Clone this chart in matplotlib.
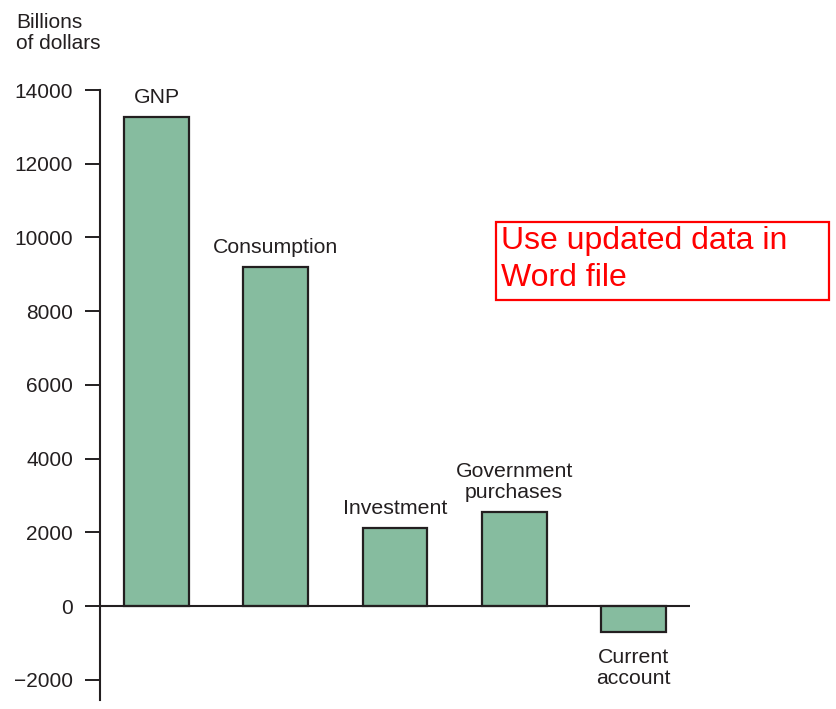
import matplotlib
matplotlib.use("Agg")
import matplotlib.pyplot as plt
from matplotlib.patches import Rectangle

plt.rcParams['font.family'] = ['Liberation Sans', 'DejaVu Sans']

categories = ["GNP", "Consumption", "Investment", "Government\npurchases", "Current\naccount"]
values = [13270, 9200, 2120, 2550, -700]
yticks = [-2000, 0, 2000, 4000, 6000, 8000, 10000, 12000, 14000]

dark = "#231f20"
green = "#86bc9f"

fig = plt.figure(figsize=(8.37, 7.09), dpi=100)
ax = fig.add_axes([100 / 837, 9 / 709, 590 / 837, 610 / 709])

x = list(range(len(categories)))
ax.bar(x, values, width=0.545, color=green, edgecolor=dark, linewidth=1.6, zorder=2)

ax.set_xlim(-0.474, 4.474)
ax.set_ylim(-2550, 14000)
ax.set_yticks(yticks)
ax.set_yticklabels([f"{t}".replace("-", "\u2212") for t in yticks], fontsize=15, color=dark)
ax.tick_params(axis='y', direction='out', length=11, width=1.4, pad=8.5, colors=dark)
ax.tick_params(axis='x', bottom=False, labelbottom=False)

for s in ["top", "right", "bottom"]:
    ax.spines[s].set_visible(False)
ax.spines["left"].set_linewidth(1.5)
ax.spines["left"].set_color(dark)
ax.axhline(0, color=dark, linewidth=1.5, zorder=3)

# category labels above / below the bars
for xi, v, lab in zip(x, values, categories):
    if v >= 0:
        ax.annotate(lab, (xi, v), xytext=(0, 10), textcoords="offset points",
                    ha="center", va="baseline", fontsize=15.3, color=dark,
                    linespacing=1.12)
    else:
        ax.annotate(lab, (xi, v), xytext=(0, -12), textcoords="offset points",
                    ha="center", va="top", fontsize=15.3, color=dark,
                    linespacing=1.12)

fig.text(16 / 837, 1 - 13 / 709, "Billions\nof dollars", ha="left", va="top",
         fontsize=15, color=dark, linespacing=1.12)

# red note box
fig.patches.append(Rectangle((496 / 837, 1 - 300 / 709), 333 / 837, 78 / 709,
                             transform=fig.transFigure, fill=False,
                             edgecolor="red", linewidth=1.6))
fig.text(501 / 837, 1 - 226 / 709, "Use updated data in\nWord file", ha="left", va="top",
         fontsize=23, color="red", linespacing=1.32)

fig.savefig("out.png", dpi=100)
